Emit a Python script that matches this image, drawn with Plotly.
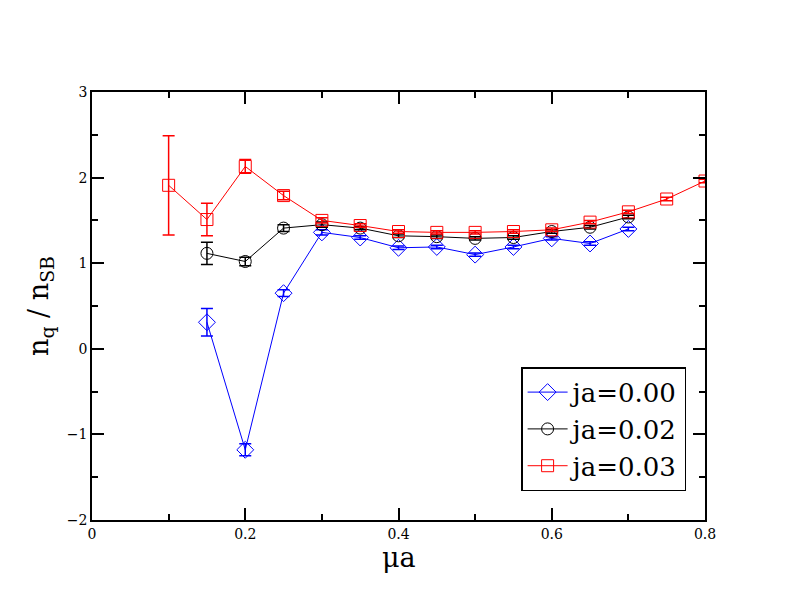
import plotly.graph_objects as go

# data
x_blue = [0.15, 0.20, 0.25, 0.30, 0.35, 0.40, 0.45, 0.50, 0.55, 0.60, 0.65, 0.70]
y_blue = [0.31, -1.18, 0.65, 1.36, 1.30, 1.18, 1.19, 1.10, 1.19, 1.29, 1.23, 1.40]
e_blue = [0.16, 0.07, 0.04, 0.03, 0.02, 0.02, 0.02, 0.02, 0.02, 0.02, 0.02, 0.02]

x_black = [0.15, 0.20, 0.25, 0.30, 0.35, 0.40, 0.45, 0.50, 0.55, 0.60, 0.65, 0.70]
y_black = [1.115, 1.02, 1.41, 1.45, 1.41, 1.32, 1.31, 1.29, 1.30, 1.37, 1.42, 1.54]
e_black = [0.13, 0.05, 0.04, 0.03, 0.02, 0.02, 0.02, 0.02, 0.02, 0.02, 0.02, 0.02]

x_red = [0.10, 0.15, 0.20, 0.25, 0.30, 0.35, 0.40, 0.45, 0.50, 0.55, 0.60, 0.65, 0.70, 0.75, 0.80]
y_red = [1.91, 1.51, 2.13, 1.79, 1.50, 1.44, 1.37, 1.36, 1.36, 1.37, 1.39, 1.48, 1.60, 1.75, 1.96]
e_red = [0.58, 0.19, 0.08, 0.05, 0.03, 0.02, 0.02, 0.02, 0.02, 0.02, 0.02, 0.02, 0.02, 0.02, 0.02]

names = ["ja=0.00", "ja=0.02", "ja=0.03"]

FONT = "DejaVu Serif"

fig = go.Figure()

def add(xs, ys, es, color, symbol, size, name):
    fig.add_trace(go.Scatter(
        x=xs, y=ys, name=name, mode="lines+markers",
        line=dict(color=color, width=1),
        marker=dict(symbol=symbol, size=size, color=color, line=dict(color=color, width=1)),
        error_y=dict(type="data", array=es, visible=True, color=color, thickness=1.5, width=6),
    ))

add(x_blue, y_blue, e_blue, "#0000ff", "diamond-open", 13, names[0])
add(x_black, y_black, e_black, "#000000", "circle-open", 12, names[1])
add(x_red, y_red, e_red, "#ff0000", "square-open", 12, names[2])

axis_common = dict(
    showline=True, linecolor="black", linewidth=1.5, mirror="ticks",
    ticks="inside", ticklen=12, tickwidth=1.5, tickcolor="black",
    showgrid=False, zeroline=False,
    tickfont=dict(family=FONT, size=14, color="black"),
)

fig.update_xaxes(
    range=[0, 0.8], dtick=0.2, tick0=0,
    minor=dict(ticks="inside", ticklen=6, dtick=0.1, tickcolor="black", tickwidth=1.5, showgrid=False),
    **axis_common,
)
fig.update_yaxes(
    range=[-2, 3], dtick=1, tick0=0,
    minor=dict(ticks="inside", ticklen=6, dtick=0.5, tickcolor="black", tickwidth=1.5, showgrid=False),
    title=dict(text="n<sub>q</sub> / n<sub>SB</sub>", font=dict(family=FONT, size=27, color="black"), standoff=10),
    **axis_common,
)

fig.add_annotation(
    text="μa", xref="paper", yref="paper", x=0.5, y=-0.087,
    xanchor="center", yanchor="middle", showarrow=False,
    font=dict(family=FONT, size=27, color="black"),
)

fig.update_layout(
    width=784, height=604,
    margin=dict(l=84, r=87, t=84, b=92),
    paper_bgcolor="white", plot_bgcolor="white",
    font=dict(family=FONT, color="black"),
    legend=dict(
        x=0.70, y=0.357, xanchor="left", yanchor="top",
        font=dict(family=FONT, size=26, color="black"),
        bordercolor="black", borderwidth=1.5, bgcolor="white",
        tracegroupgap=0, itemwidth=40,
    ),
    showlegend=True,
)

fig.write_html("out.html")
